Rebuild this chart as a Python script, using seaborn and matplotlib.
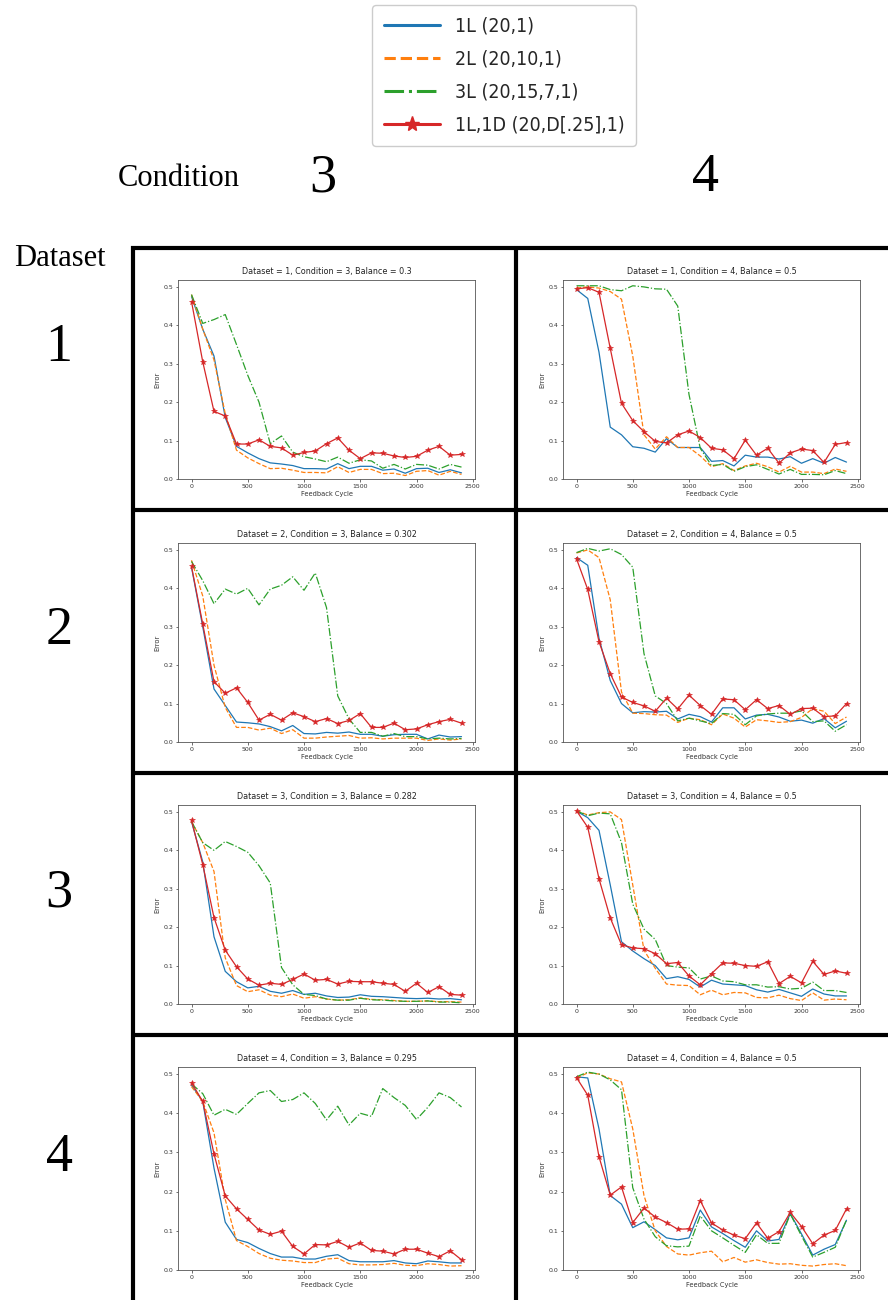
import matplotlib
matplotlib.use("Agg")
import matplotlib.pyplot as plt
from matplotlib.lines import Line2D
from matplotlib.font_manager import FontProperties
import numpy as np
import pandas as pd
import seaborn as sns

# ---------------- data ----------------
cycles = list(range(0, 2500, 100))
models = ["1L (20,1)", "2L (20,10,1)", "3L (20,15,7,1)", "1L,1D (20,D[.25],1)"]
datasets = [1, 2, 3, 4]
conditions = [3, 4]
balances_c3 = ["0.3", "0.302", "0.282", "0.295"]
balances_c4 = ["0.5", "0.5", "0.5", "0.5"]

# Dataset 1, Condition 3
d1c3_1L = [0.475, 0.39, 0.32, 0.16, 0.085, 0.068, 0.053, 0.042, 0.039, 0.035, 0.027, 0.027, 0.026, 0.040, 0.027, 0.033, 0.033, 0.023, 0.026, 0.015, 0.027, 0.028, 0.017, 0.024, 0.016]
d1c3_2L = [0.48, 0.39, 0.31, 0.17, 0.075, 0.055, 0.040, 0.027, 0.028, 0.023, 0.017, 0.017, 0.016, 0.032, 0.017, 0.025, 0.025, 0.014, 0.015, 0.009, 0.020, 0.022, 0.010, 0.020, 0.012]
d1c3_3L = [0.48, 0.405, 0.415, 0.428, 0.35, 0.27, 0.20, 0.092, 0.112, 0.07, 0.058, 0.052, 0.045, 0.057, 0.041, 0.050, 0.047, 0.028, 0.038, 0.026, 0.038, 0.036, 0.026, 0.038, 0.031]
d1c3_1D = [0.462, 0.305, 0.176, 0.164, 0.091, 0.091, 0.102, 0.085, 0.081, 0.062, 0.069, 0.073, 0.092, 0.107, 0.075, 0.053, 0.068, 0.067, 0.060, 0.056, 0.059, 0.075, 0.085, 0.062, 0.064]
# Dataset 1, Condition 4
d1c4_1L = [0.493, 0.47, 0.33, 0.135, 0.115, 0.084, 0.080, 0.070, 0.105, 0.082, 0.082, 0.082, 0.046, 0.048, 0.034, 0.062, 0.057, 0.057, 0.052, 0.058, 0.041, 0.053, 0.041, 0.056, 0.044]
d1c4_2L = [0.497, 0.500, 0.497, 0.488, 0.468, 0.32, 0.115, 0.078, 0.11, 0.082, 0.082, 0.06, 0.032, 0.04, 0.022, 0.034, 0.041, 0.032, 0.018, 0.033, 0.018, 0.018, 0.014, 0.026, 0.020]
d1c4_3L = [0.503, 0.503, 0.503, 0.493, 0.490, 0.503, 0.500, 0.495, 0.494, 0.45, 0.22, 0.08, 0.035, 0.038, 0.020, 0.032, 0.037, 0.025, 0.013, 0.025, 0.012, 0.012, 0.011, 0.022, 0.014]
d1c4_1D = [0.495, 0.498, 0.486, 0.340, 0.197, 0.152, 0.123, 0.098, 0.094, 0.115, 0.125, 0.108, 0.080, 0.076, 0.053, 0.101, 0.062, 0.080, 0.041, 0.068, 0.078, 0.074, 0.043, 0.090, 0.095]
# Dataset 2, Condition 3
d2c3_1L = [0.455, 0.30, 0.138, 0.095, 0.052, 0.050, 0.047, 0.040, 0.029, 0.043, 0.022, 0.021, 0.025, 0.023, 0.026, 0.020, 0.020, 0.015, 0.019, 0.020, 0.020, 0.008, 0.018, 0.013, 0.014]
d2c3_2L = [0.473, 0.38, 0.20, 0.09, 0.038, 0.038, 0.031, 0.036, 0.022, 0.032, 0.010, 0.010, 0.013, 0.015, 0.017, 0.010, 0.011, 0.008, 0.010, 0.010, 0.010, 0.004, 0.008, 0.005, 0.008]
d2c3_3L = [0.47, 0.42, 0.36, 0.398, 0.385, 0.40, 0.357, 0.398, 0.408, 0.43, 0.395, 0.44, 0.35, 0.12, 0.06, 0.025, 0.025, 0.015, 0.022, 0.014, 0.014, 0.008, 0.010, 0.008, 0.009]
d2c3_1D = [0.457, 0.307, 0.157, 0.127, 0.141, 0.103, 0.057, 0.072, 0.057, 0.076, 0.066, 0.053, 0.061, 0.048, 0.056, 0.074, 0.038, 0.038, 0.049, 0.032, 0.034, 0.045, 0.053, 0.059, 0.049]
# Dataset 2, Condition 4
d2c4_1L = [0.480, 0.460, 0.27, 0.16, 0.10, 0.076, 0.079, 0.078, 0.080, 0.060, 0.072, 0.066, 0.052, 0.089, 0.089, 0.060, 0.070, 0.072, 0.065, 0.054, 0.057, 0.049, 0.061, 0.037, 0.054]
d2c4_2L = [0.492, 0.500, 0.48, 0.37, 0.13, 0.075, 0.074, 0.071, 0.070, 0.051, 0.062, 0.058, 0.045, 0.073, 0.062, 0.039, 0.058, 0.055, 0.051, 0.053, 0.064, 0.087, 0.080, 0.048, 0.065]
d2c4_3L = [0.493, 0.504, 0.497, 0.503, 0.488, 0.455, 0.23, 0.12, 0.10, 0.055, 0.062, 0.055, 0.048, 0.074, 0.072, 0.045, 0.068, 0.073, 0.075, 0.075, 0.081, 0.053, 0.055, 0.028, 0.045]
d2c4_1D = [0.477, 0.397, 0.261, 0.178, 0.117, 0.103, 0.094, 0.080, 0.114, 0.086, 0.122, 0.095, 0.072, 0.112, 0.110, 0.084, 0.110, 0.087, 0.095, 0.072, 0.087, 0.088, 0.066, 0.068, 0.100]
# Dataset 3, Condition 3
d3c3_1L = [0.475, 0.37, 0.175, 0.085, 0.058, 0.042, 0.046, 0.033, 0.028, 0.035, 0.025, 0.028, 0.021, 0.017, 0.018, 0.024, 0.020, 0.019, 0.017, 0.015, 0.014, 0.015, 0.013, 0.014, 0.011]
d3c3_2L = [0.475, 0.42, 0.345, 0.12, 0.048, 0.032, 0.037, 0.023, 0.019, 0.026, 0.015, 0.019, 0.013, 0.010, 0.011, 0.016, 0.012, 0.011, 0.009, 0.007, 0.007, 0.008, 0.006, 0.006, 0.005]
d3c3_3L = [0.475, 0.42, 0.40, 0.423, 0.41, 0.395, 0.36, 0.315, 0.095, 0.05, 0.025, 0.022, 0.013, 0.010, 0.010, 0.015, 0.011, 0.010, 0.008, 0.007, 0.007, 0.008, 0.005, 0.005, 0.003]
d3c3_1D = [0.478, 0.363, 0.225, 0.140, 0.097, 0.065, 0.049, 0.054, 0.051, 0.064, 0.078, 0.062, 0.064, 0.052, 0.059, 0.058, 0.058, 0.054, 0.051, 0.033, 0.054, 0.030, 0.045, 0.025, 0.023]
# Dataset 3, Condition 4
d3c4_1L = [0.502, 0.485, 0.452, 0.31, 0.162, 0.138, 0.118, 0.100, 0.066, 0.071, 0.064, 0.044, 0.062, 0.052, 0.050, 0.048, 0.037, 0.031, 0.038, 0.029, 0.020, 0.039, 0.026, 0.021, 0.021]
d3c4_2L = [0.503, 0.492, 0.498, 0.50, 0.48, 0.31, 0.14, 0.093, 0.052, 0.049, 0.048, 0.024, 0.036, 0.024, 0.030, 0.029, 0.017, 0.016, 0.023, 0.014, 0.009, 0.029, 0.010, 0.013, 0.011]
d3c4_3L = [0.503, 0.490, 0.497, 0.495, 0.42, 0.26, 0.195, 0.168, 0.10, 0.096, 0.094, 0.065, 0.073, 0.060, 0.058, 0.050, 0.050, 0.044, 0.045, 0.039, 0.041, 0.057, 0.035, 0.035, 0.030]
d3c4_1D = [0.503, 0.460, 0.326, 0.224, 0.154, 0.146, 0.144, 0.131, 0.105, 0.108, 0.073, 0.050, 0.079, 0.107, 0.106, 0.100, 0.098, 0.110, 0.053, 0.072, 0.055, 0.111, 0.077, 0.086, 0.080]
# Dataset 4, Condition 3
d4c3_1L = [0.472, 0.43, 0.26, 0.122, 0.078, 0.070, 0.055, 0.042, 0.033, 0.033, 0.028, 0.028, 0.035, 0.039, 0.024, 0.021, 0.021, 0.021, 0.024, 0.018, 0.016, 0.023, 0.021, 0.018, 0.018]
d4c3_2L = [0.468, 0.43, 0.35, 0.18, 0.075, 0.06, 0.042, 0.03, 0.025, 0.023, 0.019, 0.019, 0.028, 0.030, 0.016, 0.013, 0.013, 0.014, 0.017, 0.012, 0.011, 0.016, 0.014, 0.010, 0.011]
d4c3_3L = [0.475, 0.45, 0.395, 0.41, 0.397, 0.425, 0.452, 0.458, 0.43, 0.435, 0.452, 0.425, 0.383, 0.418, 0.37, 0.40, 0.392, 0.463, 0.44, 0.42, 0.384, 0.415, 0.452, 0.44, 0.416]
d4c3_1D = [0.478, 0.43, 0.296, 0.189, 0.156, 0.129, 0.102, 0.091, 0.099, 0.060, 0.041, 0.065, 0.064, 0.073, 0.058, 0.069, 0.050, 0.048, 0.041, 0.053, 0.053, 0.043, 0.034, 0.049, 0.026]
# Dataset 4, Condition 4
d4c4_1L = [0.493, 0.490, 0.36, 0.19, 0.168, 0.108, 0.123, 0.103, 0.082, 0.077, 0.082, 0.153, 0.110, 0.093, 0.075, 0.058, 0.100, 0.074, 0.078, 0.144, 0.092, 0.038, 0.053, 0.065, 0.127]
d4c4_2L = [0.490, 0.503, 0.500, 0.488, 0.480, 0.36, 0.19, 0.10, 0.06, 0.041, 0.038, 0.044, 0.048, 0.021, 0.032, 0.020, 0.026, 0.019, 0.015, 0.016, 0.012, 0.010, 0.014, 0.016, 0.011]
d4c4_3L = [0.493, 0.505, 0.500, 0.485, 0.46, 0.21, 0.13, 0.085, 0.062, 0.059, 0.061, 0.138, 0.100, 0.082, 0.063, 0.045, 0.090, 0.068, 0.068, 0.143, 0.087, 0.033, 0.045, 0.058, 0.128]
d4c4_1D = [0.491, 0.446, 0.289, 0.191, 0.212, 0.121, 0.158, 0.135, 0.121, 0.104, 0.105, 0.177, 0.120, 0.102, 0.089, 0.080, 0.120, 0.081, 0.098, 0.147, 0.111, 0.067, 0.089, 0.101, 0.156]

panel_series = {
    (1, 3): [d1c3_1L, d1c3_2L, d1c3_3L, d1c3_1D],
    (1, 4): [d1c4_1L, d1c4_2L, d1c4_3L, d1c4_1D],
    (2, 3): [d2c3_1L, d2c3_2L, d2c3_3L, d2c3_1D],
    (2, 4): [d2c4_1L, d2c4_2L, d2c4_3L, d2c4_1D],
    (3, 3): [d3c3_1L, d3c3_2L, d3c3_3L, d3c3_1D],
    (3, 4): [d3c4_1L, d3c4_2L, d3c4_3L, d3c4_1D],
    (4, 3): [d4c3_1L, d4c3_2L, d4c3_3L, d4c3_1D],
    (4, 4): [d4c4_1L, d4c4_2L, d4c4_3L, d4c4_1D],
}

# ---------------- style ----------------
sns.set_theme(style="white")
plt.rcParams["font.family"] = ["DejaVu Sans"]

colors = ["#1f77b4", "#ff7f0e", "#2ca02c", "#d62728"]
linestyles = ["-", "--", "-.", "-"]
mks = [None, None, None, "*"]

W, H = 888, 1300
fig = plt.figure(figsize=(W / 100, H / 100), dpi=100)
fig.patch.set_facecolor("white")

col_left = {3: 178, 4: 563}
ax_w = 297
row_top = {1: 280, 2: 543, 3: 805, 4: 1067}
row_bot = {1: 479, 2: 742, 3: 1004, 4: 1270}

for d in datasets:
    for c in conditions:
        l = col_left[c]
        t = row_top[d]
        b = row_bot[d]
        ax = fig.add_axes([l / W, 1 - b / H, ax_w / W, (b - t) / H])
        ax.set_facecolor("white")
        series = panel_series[(d, c)]
        for i, m in enumerate(models):
            df = pd.DataFrame({"Feedback Cycle": cycles, "Error": series[i]})
            kw = dict(color=colors[i], linestyle=linestyles[i], linewidth=0.9)
            if mks[i]:
                kw.update(marker=mks[i], markersize=3.8, mew=0.4, mec=colors[i],
                          mfc=colors[i])
            sns.lineplot(data=df, x="Feedback Cycle", y="Error", ax=ax,
                         legend=False, **kw)
        ax.set_ylim(0, 0.518)
        bal = balances_c3[d - 1] if c == 3 else balances_c4[d - 1]
        ax.set_title(f"Dataset = {d}, Condition = {c}, Balance = {bal}",
                     fontsize=5.8, pad=4, color="#222222")
        ax.set_xlabel("Feedback Cycle", fontsize=4.8, labelpad=1.5, color="#333333")
        ax.set_ylabel("Error", fontsize=4.8, labelpad=2, color="#333333")
        ax.set_xticks([0, 500, 1000, 1500, 2000, 2500])
        ax.set_yticks([0.0, 0.1, 0.2, 0.3, 0.4, 0.5])
        ax.tick_params(axis="both", labelsize=4.5, length=1.8, width=0.5,
                       pad=1.5, colors="#333333", bottom=True, left=True)
        for sp in ax.spines.values():
            sp.set_color("#555555")
            sp.set_linewidth(0.6)

# ---------------- grid lines ----------------
def hline(y, x0, x1):
    fig.add_artist(Line2D([x0 / W, x1 / W], [1 - y / H, 1 - y / H],
                          color="black", linewidth=3.0, transform=fig.transFigure,
                          solid_capstyle="butt"))

def vline(x, y0, y1):
    fig.add_artist(Line2D([x / W, x / W], [1 - y0 / H, 1 - y1 / H],
                          color="black", linewidth=3.0, transform=fig.transFigure,
                          solid_capstyle="butt"))

hline(247.5, 131, 888)
for yy in [510, 773, 1035]:
    hline(yy, 131, 888)
vline(133, 245.5, 1300)
vline(515.5, 245.5, 1300)

# ---------------- header texts ----------------
serif = ["Liberation Serif", "DejaVu Serif"]
fig.text(179 / W, 1 - 178 / H, "Condition", family=serif, fontsize=22,
         ha="center", va="center", color="black")
fig.text(323 / W, 1 - 178 / H, "3", family=serif, fontsize=39,
         ha="center", va="center", color="black")
fig.text(705 / W, 1 - 178 / H, "4", family=serif, fontsize=39,
         ha="center", va="center", color="black")
fig.text(60 / W, 1 - 258 / H, "Dataset", family=serif, fontsize=22,
         ha="center", va="center", color="black")
row_lab_y = [348, 631, 893, 1158]
for d, yy in zip(datasets, row_lab_y):
    fig.text(59 / W, 1 - yy / H, str(d), family=serif, fontsize=39,
             ha="center", va="center", color="black")

# ---------------- legend ----------------
handles = []
for i, m in enumerate(models):
    handles.append(Line2D([], [], color=colors[i], linestyle=linestyles[i],
                          linewidth=2.2, marker=mks[i] if mks[i] else None,
                          markersize=11))
leg_font = FontProperties(family="DejaVu Sans", stretch="condensed", size=14)
fig.legend(handles=handles, labels=models, loc="upper left",
           bbox_to_anchor=(372 / W, 1 - 5 / H), prop=leg_font,
           handlelength=2.9, labelspacing=0.72, frameon=True,
           fancybox=True, framealpha=1.0, edgecolor="#cccccc",
           borderpad=0.6, handletextpad=0.75, borderaxespad=0)

fig.savefig("out.png", dpi=100, facecolor="white")
